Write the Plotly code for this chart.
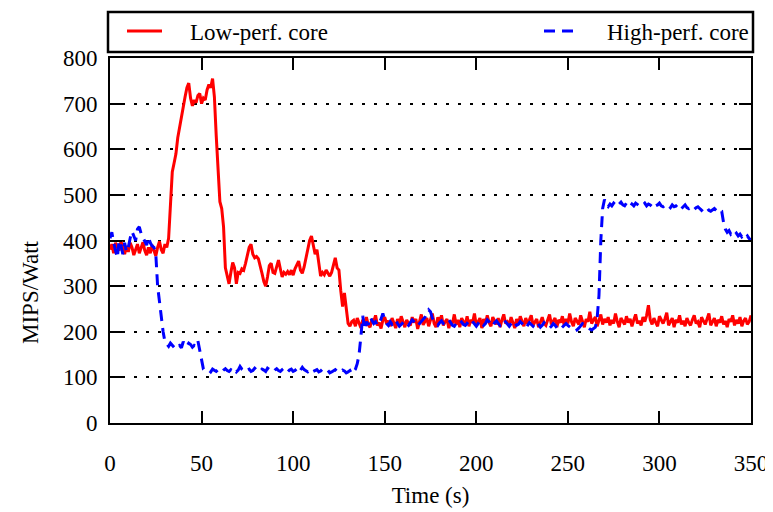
import plotly.graph_objects as go

# ---- data ----
low_t = list(range(0, 351))
low_vals = [
    380, 392, 372, 395, 385, 378, 398, 382, 370, 388,
    375, 395, 385, 368, 380, 392, 372, 385, 396, 378,
    368, 385, 372, 390, 380, 366, 385, 398, 380, 372,
    392, 385, 405, 470, 550, 570, 590, 625, 650, 670,
    700, 715, 735, 745, 712, 695, 708, 702, 718, 722,
    700, 712, 708, 730, 742, 735, 755, 715, 630, 555,
    485, 470, 430, 340, 318, 305, 330, 352, 340, 305,
    330, 328, 338, 335, 350, 372, 385, 392, 370, 362,
    365, 360, 340, 328, 310, 300, 320, 345, 350, 330,
    328, 345, 357, 338, 320, 330, 326, 332, 325, 335,
    324, 338, 345, 355, 335, 328, 342, 360, 385, 400,
    410, 385, 370, 380, 350, 322, 330, 325, 335, 328,
    322, 330, 345, 362, 340, 335, 290, 255, 285, 250,
    218, 212, 222,
    225, 212, 230, 218, 208, 226, 220, 232, 215, 210, 228, 222, 236, 214, 220, 207, 226, 232, 218, 224,
    212, 230, 220, 208, 228, 216, 234, 222, 210, 226, 218, 214, 232, 220, 228, 206, 224, 238, 215, 222,
    230, 212, 226, 240, 218, 210, 232, 220, 236, 214, 222, 228, 208, 224, 218, 238, 216, 226, 210, 230,
    222, 216, 234, 212, 226, 220, 240, 214, 222, 230, 208, 228, 218, 236, 220, 212, 232, 224, 216, 230,
    210, 226, 238, 218, 222, 214, 232, 220, 208, 228, 216, 234, 222, 212, 230, 218, 226, 236, 214, 222,
    228, 210, 224, 232, 218, 214, 226, 238, 216, 222, 230, 210, 226, 220, 234, 214, 228, 218, 240, 222,
    212, 230, 224, 216, 236, 220, 210, 228, 222, 244, 218, 226, 232, 212, 224, 238, 216, 228, 220, 232,
    214, 226, 218, 240, 222, 210, 230, 224, 216, 234, 220, 228, 212, 226, 238, 218, 224, 214, 232, 222,
    236, 258, 226, 216, 230, 220, 212, 234, 224, 218, 228, 242, 214, 222, 230, 210, 226, 220, 236, 216,
    224, 212, 230, 220, 214, 226, 236, 218, 222, 210, 232, 224, 216, 228, 240, 214, 222, 230, 212, 226,
    220, 234, 216, 224, 210, 228, 222, 236, 214, 226, 218, 232, 212, 224, 230, 216, 222, 236,
]

high_t = list(range(0, 351))
high_vals = [
    405, 418, 395, 380, 362, 400, 388, 370, 395, 375,
    385, 405, 420, 410, 400, 425, 430, 415, 405, 398,
    390, 408, 395, 388, 385, 370, 300, 265, 240, 200,
    178, 172, 168, 175, 170, 166, 172, 168, 170, 165,
    178, 170, 168, 175, 172, 166, 170, 168, 180, 160,
    140, 118, 115,
    114, 116, 112, 118, 115, 113, 117, 114, 112, 116, 119, 115, 113, 117, 114, 118, 112, 116, 124, 118,
    114, 112, 116, 118, 113, 115, 120, 117, 112, 114, 118, 116, 113, 120, 117, 114, 112, 116, 119, 115,
    113, 117, 120, 114, 112, 116, 118, 113, 115, 119, 112, 116, 122, 117, 114, 112, 116, 118, 113, 115,
    117, 112, 114, 118, 116, 113, 115, 110, 112, 114, 117, 113, 111, 112, 116, 114, 110, 112, 115, 108, 112, 118,
    130, 150, 190, 235, 205, 222, 215, 232, 225, 218, 222, 214, 220, 228, 240, 225,
    218, 214, 222, 216, 220, 226, 218, 212, 216, 220, 224, 218, 214, 220, 226, 222, 216, 212, 218, 222,
    226, 232, 240, 248, 244, 230, 222, 218, 214, 220, 224, 218, 216, 222, 226, 220, 214, 212, 218, 224,
    226, 220, 216, 214, 218, 224, 228, 222, 216, 212, 218, 224, 220, 214, 218, 226, 222, 216, 212, 220,
    224, 218, 214, 220, 226, 222, 216, 212, 218, 224, 220, 214, 216, 222, 218, 212, 208, 214, 220, 216,
    212, 218, 222, 216, 210, 214, 220, 216, 212, 208, 212, 218, 214, 208, 204, 206, 210, 216, 218, 214,
    210, 206, 204, 202, 204, 208, 214, 218, 216, 212, 210, 206, 204, 208, 210, 230, 280, 400,
    470, 490,
    478, 474, 480, 476, 482, 478, 474, 480, 484, 478, 476, 482, 478, 474, 480, 476, 482, 478, 476, 480,
    478, 482, 476, 480, 478, 474, 480, 476, 478, 482, 476, 474, 478, 480, 476, 472, 478, 474, 476, 472,
    476, 470, 474, 478, 472, 470, 474, 470, 468, 472, 474, 470, 466, 470, 468, 472, 466, 464, 468, 470, 466, 462, 466, 464,
    440, 425, 418, 422, 414, 418, 412, 416, 410, 414, 408, 412, 406, 410, 404, 402,
]

x_ticks = [0, 50, 100, 150, 200, 250, 300, 350]
y_ticks = [0, 100, 200, 300, 400, 500, 600, 700, 800]

FONT = "Liberation Serif, Times New Roman, serif"
FS = 23
W, H = 773, 512
OFF = 8  # default page body margin
NB = "\u00a0" * 4

fig = go.Figure()
fig.add_trace(go.Scatter(
    x=low_t, y=low_vals, mode="lines", name=NB + "Low-perf. core",
    line=dict(color="#ff0000", width=3), legend="legend",
))
fig.add_trace(go.Scatter(
    x=high_t, y=high_vals, mode="lines", name=NB + "High-perf. core",
    line=dict(color="#0000ff", width=3, dash="11px,7px"), legend="legend2",
))

axis_common = dict(
    showline=True, linecolor="black", linewidth=2, mirror="ticks",
    ticks="inside", ticklen=12, tickwidth=1.5, tickcolor="black",
    tickfont=dict(family=FONT, size=FS, color="black"),
    zeroline=False, automargin=False,
)

leg_common = dict(
    xref="container", yref="container", xanchor="left", yanchor="middle",
    orientation="h", bgcolor="rgba(0,0,0,0)", borderwidth=0,
    font=dict(family=FONT, size=FS, color="black"), itemwidth=35,
)

# plot area wanted on page: x 110..751, y 58..423
L = 110 - OFF
T = 58 - OFF
R = W - (751 - OFF)
B = H - (423 - OFF)

fig.update_layout(
    width=W, height=H,
    margin=dict(l=L, r=R, t=T, b=B, autoexpand=False),
    paper_bgcolor="white", plot_bgcolor="white",
    font=dict(family=FONT, size=FS, color="black"),
    showlegend=True,
    xaxis=dict(
        range=[0, 350], tickvals=x_ticks, showgrid=False,
        ticklabelstandoff=18,
        title=dict(text="Time (s)", font=dict(family=FONT, size=FS), standoff=12),
        **axis_common,
    ),
    yaxis=dict(
        range=[0, 800], tickvals=y_ticks, showgrid=True,
        gridcolor="black", gridwidth=1.5, griddash="3px,9px",
        ticklabelstandoff=6,
        **axis_common,
    ),
    legend=dict(x=(126 - 12) / W, y=1 - (31 - OFF) / H, **leg_common),
    legend2=dict(x=(543 - 12) / W, y=1 - (31 - OFF) / H, **leg_common),
    shapes=[dict(
        type="rect", xref="paper", yref="paper",
        x0=(108 - 110) / 641, x1=(753 - 110) / 641,
        y0=(423 - 52) / 365, y1=(423 - 12) / 365,
        line=dict(color="black", width=2.5), fillcolor="rgba(0,0,0,0)",
        layer="below",
    )],
    annotations=[dict(
        text="MIPS/Watt", textangle=-90, xref="paper", yref="paper",
        x=(30 - 110) / 641, y=(423 - 292) / 365, xanchor="center", yanchor="middle",
        showarrow=False, font=dict(family=FONT, size=FS, color="black"),
    )],
)

fig.write_html("out.html")
